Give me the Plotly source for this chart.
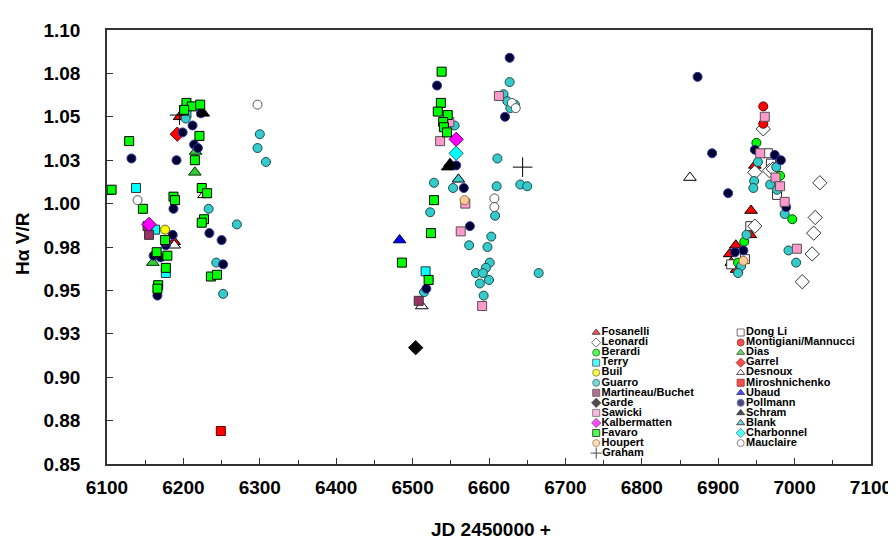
import plotly.graph_objects as go

# H-alpha V/R measurements per observer (JD - 2450000, V/R)
fosanelli_jd = [6195, 6188, 6948, 6943, 6942, 6923, 6915, 6917, 6924]
fosanelli_vr = [1.050, 0.978, 1.022, 0.996, 0.982, 0.976, 0.971, 0.966, 0.962]

dongli_jd = [6965, 6969, 6977, 6942, 6935, 6917]
dongli_vr = [1.029, 1.023, 1.005, 0.987, 0.968, 0.965]

leonardi_jd = [6959, 6948, 6967, 6972, 7033, 7027, 7025, 7023, 7010, 6948]
leonardi_vr = [1.043, 1.018, 1.019, 1.020, 1.012, 0.992, 0.983, 0.971, 0.955, 0.987]

montigiani_jd = [6959, 6959]
montigiani_vr = [1.056, 1.046]

berardi_jd = [6950, 6981, 6997, 6934, 6926]
berardi_vr = [1.035, 1.016, 0.991, 0.978, 0.966]

dias_jd = [6215, 6160, 6216]
dias_vr = [1.018, 0.966, 1.030]

terry_jd = [6138, 6163, 6177, 6204, 6517]
terry_vr = [1.009, 0.985, 0.960, 1.052, 0.961]

garrel_jd = [6192]
garrel_vr = [1.040]

buil_jd = [6176]
buil_vr = [0.985]

desnoux_jd = [6188, 6227, 6512, 6863]
desnoux_vr = [0.976, 1.005, 0.941, 1.015]

guarro_jd = [6203, 6300, 6297, 6308, 6233, 6270, 6243, 6252,
             6627, 6619, 6624, 6628, 6634, 6555, 6611, 6528, 6553, 6610, 6641,
             6650, 6523, 6608, 6603, 6574, 6598, 6601, 6596, 6583, 6592, 6600,
             6588, 6593, 6515, 6665,
             6952, 6976, 6947, 6946, 6968, 6977, 6987, 6992, 7002, 6937, 6930, 6926]
guarro_vr = [1.049, 1.040, 1.032, 1.024, 0.997, 0.988, 0.966, 0.948,
             1.070, 1.063, 1.059, 1.055, 1.057, 1.045, 1.026, 1.012, 1.009, 1.010, 1.011,
             1.010, 0.995, 0.993, 0.981, 0.976, 0.975, 0.966, 0.963, 0.960, 0.960, 0.956,
             0.954, 0.947, 0.949, 0.960,
             1.024, 1.021, 1.013, 1.009, 1.011, 1.008, 0.994, 0.973, 0.966, 0.982, 0.964, 0.960]

miroshnichenko_jd = [6249]
miroshnichenko_vr = [0.869]

martineau_jd = [6153, 6155, 6508]
martineau_vr = [0.987, 0.982, 0.944]

ubaud_jd = [6100, 6483]
ubaud_vr = [1.007, 0.979]

garde_jd = [6504]
garde_vr = [0.917]

pollmann_jd = [6223, 6212, 6199, 6214, 6219, 6132, 6191, 6187, 6186, 6234, 6250,
               6177, 6161, 6170, 6252, 6166, 6177,
               6627, 6532, 6621, 6557, 6567, 6575, 6518,
               6873, 6892, 6913, 6948, 6974, 6982, 6989, 6933, 6922]
pollmann_vr = [1.052, 1.045, 1.041, 1.034, 1.032, 1.026, 1.025, 0.997, 0.982, 0.983, 0.979,
               0.976, 0.970, 0.969, 0.965, 0.947, 0.978,
               1.084, 1.068, 1.050, 1.022, 1.009, 0.987, 0.951,
               1.073, 1.029, 1.006, 1.031, 1.028, 1.025, 0.998, 0.973, 0.972]

sawicki_jd = [6613, 6536, 6548, 6569, 6563, 6591, 6961, 6955, 6975, 6981, 6987, 7003]
sawicki_vr = [1.062, 1.036, 1.047, 1.000, 0.984, 0.941, 1.050, 1.029, 1.015, 1.010, 1.001, 0.974]

schram_jd = [6226, 6549, 6546]
schram_vr = [1.052, 1.023, 1.021]

kalbermatten_jd = [6155, 6557]
kalbermatten_vr = [0.988, 1.037]

blank_jd = [6560]
blank_vr = [1.014]

favaro_jd = [6204, 6211, 6222, 6201, 6129, 6221, 6215, 6106, 6187, 6189, 6224, 6231,
             6147, 6227, 6224, 6176, 6165, 6179, 6177, 6236, 6244, 6167, 6166,
             6538, 6537, 6533, 6546, 6540, 6541, 6545, 6528, 6524, 6486, 6521]
favaro_vr = [1.058, 1.056, 1.057, 1.054, 1.036, 1.039, 1.025, 1.008, 1.004, 1.002, 1.009, 1.006,
             0.997, 0.991, 0.989, 0.979, 0.972, 0.970, 0.963, 0.958, 0.959, 0.953, 0.951,
             1.076, 1.058, 1.053, 1.051, 1.047, 1.044, 1.041, 1.002, 0.983, 0.966, 0.956]

charbonnel_jd = [6557]
charbonnel_vr = [1.029]

houpert_jd = [6568, 6933]
houpert_vr = [1.002, 0.967]

mauclaire_jd = [6297, 6140, 6607, 6607, 6630, 6635]
mauclaire_vr = [1.057, 1.002, 1.003, 0.998, 1.058, 1.055]

graham_jd = [6644, 6195]
graham_vr = [1.021, 1.051]

x_ticks = [6100, 6200, 6300, 6400, 6500, 6600, 6700, 6800, 6900, 7000, 7100]
y_ticks = [0.85, 0.875, 0.90, 0.925, 0.95, 0.975, 1.00, 1.025, 1.05, 1.075, 1.10]
y_labels = ["0.85", "0.88", "0.90", "0.93", "0.95", "0.98", "1.00", "1.03", "1.05", "1.08", "1.10"]

# name, x, y, symbol, fill, outline  (series order = legend order, row by row)
series = [
    ("Fosanelli", fosanelli_jd, fosanelli_vr, "triangle-up", "#FF0000", "#000000"),
    ("Dong Li", dongli_jd, dongli_vr, "square", "#FFFFFF", "#333333"),
    ("Leonardi", leonardi_jd, leonardi_vr, "diamond", "#FFFFFF", "#333333"),
    ("Montigiani/Mannucci", montigiani_jd, montigiani_vr, "circle", "#FF0000", "#660000"),
    ("Berardi", berardi_jd, berardi_vr, "circle", "#00FF00", "#004400"),
    ("Dias", dias_jd, dias_vr, "triangle-up", "#33CC33", "#003300"),
    ("Terry", terry_jd, terry_vr, "square", "#00FFFF", "#333333"),
    ("Garrel", garrel_jd, garrel_vr, "diamond", "#FF0000", "#660000"),
    ("Buil", buil_jd, buil_vr, "circle", "#FFFF00", "#666600"),
    ("Desnoux", desnoux_jd, desnoux_vr, "triangle-up", "#FFFFFF", "#000000"),
    ("Guarro", guarro_jd, guarro_vr, "circle", "#33CCCC", "#234848"),
    ("Miroshnichenko", miroshnichenko_jd, miroshnichenko_vr, "square", "#FF0000", "#660000"),
    ("Martineau/Buchet", martineau_jd, martineau_vr, "square", "#993366", "#333333"),
    ("Ubaud", ubaud_jd, ubaud_vr, "triangle-up", "#0000FF", "#000033"),
    ("Garde", garde_jd, garde_vr, "diamond", "#000000", "#000000"),
    ("Pollmann", pollmann_jd, pollmann_vr, "circle", "#000033", "#3333AA"),
    ("Sawicki", sawicki_jd, sawicki_vr, "square", "#FF99CC", "#555555"),
    ("Schram", schram_jd, schram_vr, "triangle-up", "#000000", "#000000"),
    ("Kalbermatten", kalbermatten_jd, kalbermatten_vr, "diamond", "#FF00FF", "#660066"),
    ("Blank", blank_jd, blank_vr, "triangle-up", "#33CCCC", "#000000"),
    ("Favaro", favaro_jd, favaro_vr, "square", "#00FF00", "#000000"),
    ("Charbonnel", charbonnel_jd, charbonnel_vr, "diamond", "#00FFFF", "#336666"),
    ("Houpert", houpert_jd, houpert_vr, "circle", "#FFCC99", "#996633"),
    ("Mauclaire", mauclaire_jd, mauclaire_vr, "circle", "#FFFFFF", "#555555"),
    ("Graham", graham_jd, graham_vr, "cross-thin", "#000000", "#000000"),
]

sizes = {"circle": 9, "square": 9, "diamond": 11, "triangle-up": 11, "cross-thin": 14}

fig = go.Figure()

for name, xs, ys, sym, fill, edge in series:
    fig.add_trace(go.Scatter(
        x=xs, y=ys, mode="markers", name=name, showlegend=False,
        marker=dict(symbol=sym, size=sizes[sym], color=fill,
                    line=dict(color=edge, width=1)),
    ))

# hand-made two-column legend on an overlay axis (0..1 over the plot area)
col_x = [0.6403, 0.8294]
row_top = 0.303
row_step = 0.02316
leg_x = [col_x[i % 2] for i in range(len(series))]
leg_y = [row_top - (i // 2) * row_step for i in range(len(series))]
leg_sym = [s[3] for s in series]
fig.add_trace(go.Scatter(
    x=leg_x, y=leg_y, xaxis="x2", yaxis="y2",
    mode="markers+text", showlegend=False, cliponaxis=False,
    text=[s[0] for s in series], textposition="middle right",
    textfont=dict(family="Arial, Liberation Sans", size=11, color="black", weight="bold"),
    marker=dict(symbol=leg_sym,
                size=[8 if s == "cross-thin" else 7 for s in leg_sym],
                color=[s[4] for s in series],
                line=dict(color=[s[5] for s in series], width=1)),
    hoverinfo="skip",
))

axis_font = dict(family="Arial, Liberation Sans", size=19, color="black", weight="bold")

fig.update_layout(
    width=896, height=542,
    margin=dict(l=99, r=25, t=16, b=86),
    plot_bgcolor="white", paper_bgcolor="white",
    showlegend=False,
    xaxis=dict(range=[6100, 7100], tickmode="array", tickvals=x_ticks,
               ticktext=[str(v) for v in x_ticks],
               ticks="inside", ticklen=6, tickcolor="#333333",
               showline=True, linecolor="#333333", linewidth=1.5, mirror=True,
               showgrid=False, zeroline=False, tickfont=axis_font,
               ticklabelstandoff=5,
               minor=dict(tick0=6150, dtick=100, ticks="inside", ticklen=4,
                          tickcolor="#333333", showgrid=False)),
    yaxis=dict(range=[0.85, 1.10], tickmode="array", tickvals=y_ticks, ticktext=y_labels,
               ticks="inside", ticklen=6, tickcolor="#333333",
               showline=True, linecolor="#333333", linewidth=1.5, mirror=True,
               showgrid=False, zeroline=False, tickfont=axis_font,
               ticklabelstandoff=21),
    xaxis2=dict(overlaying="x", anchor="y2", range=[0, 1], visible=False),
    yaxis2=dict(overlaying="y", anchor="x2", range=[0, 1], visible=False),
    annotations=[
        dict(text="JD 2450000 +", xref="paper", yref="paper", x=0.503, y=0,
             yanchor="middle", yshift=-65, showarrow=False,
             font=dict(family="Arial, Liberation Sans", size=19, color="black", weight="bold")),
        dict(text="Hα V/R", xref="paper", yref="paper", x=0, y=0.507,
             xanchor="center", xshift=-84, textangle=-90, showarrow=False,
             font=dict(family="Arial, Liberation Sans", size=19, color="black", weight="bold")),
    ],
)

fig.write_html("out.html")
